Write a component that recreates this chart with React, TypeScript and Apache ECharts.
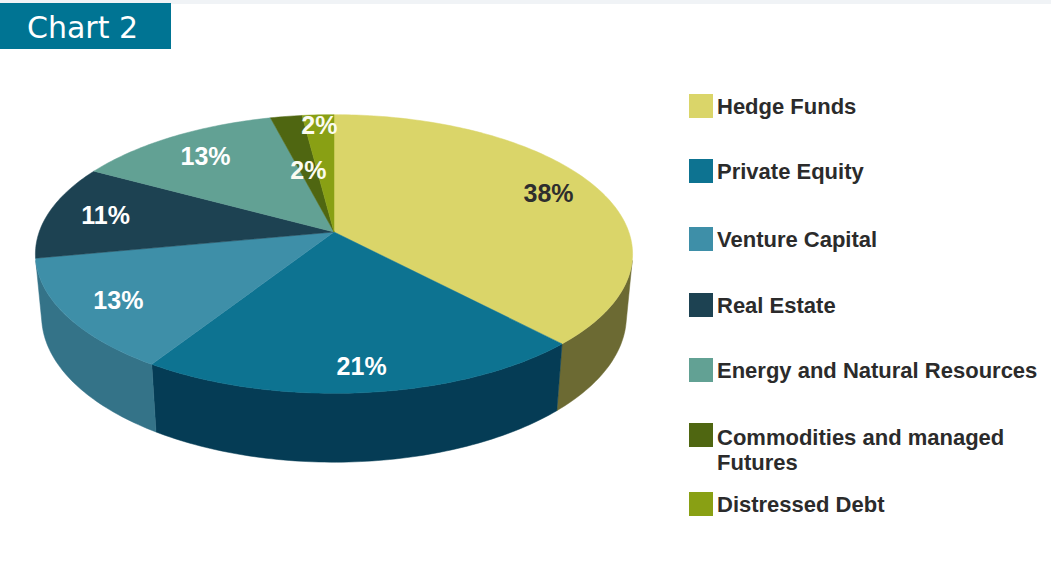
import React, { useEffect, useRef } from "react";
import * as echarts from "echarts";

// ---- data ----
const title = "Chart 2";
const categories = [
  "Hedge Funds",
  "Private Equity",
  "Venture Capital",
  "Real Estate",
  "Energy and Natural Resources",
  "Commodities and managed Futures",
  "Distressed Debt",
];
const legendLabels = [
  "Hedge Funds",
  "Private Equity",
  "Venture Capital",
  "Real Estate",
  "Energy and Natural Resources",
  "Commodities and managed\nFutures",
  "Distressed Debt",
];
const shares = [38, 21, 13, 11, 13, 2, 2];

// ---- styles ----
const TOP_COLORS = ["#dad569", "#0d7391", "#3e8fa8", "#1d4252", "#62a194", "#4f6611", "#89a014"];
const SIDE_COLORS = ["#6c6a33", "#053c55", "#347388", "#163540", "#4c8074", "#3c4e0c", "#6a7c10"];
const LABEL_COLORS = ["#2e2e2e", "#ffffff", "#ffffff", "#ffffff", "#ffffff", "#fbfbf0", "#fbfbf0"];
const LABEL_R = [0.82, 0.86, 0.82, 0.8, 0.78, 0.5, 0.9];
const LEGEND_Y = [106, 171, 239, 305, 370, 435, 504];

// perspective camera for the tilted pie
const CAM = { H: 2.63, D: 4.94, k: 1618, kx: 1650, cx: 334, cy: 232, t: 0.246 };
const CAM_L = Math.sqrt(CAM.H * CAM.H + CAM.D * CAM.D);

function project(X: number, Y: number, Z: number): number[] {
  const depth = (-CAM.H * (Y - CAM.H) + CAM.D * (Z + CAM.D)) / CAM_L;
  const up = (CAM.D * Y + CAM.H * Z) / CAM_L;
  return [CAM.cx + (CAM.kx * X) / depth, CAM.cy - (CAM.k * up) / depth];
}
const rad = (d: number) => (d * Math.PI) / 180;
function pt(deg: number, Y: number, r = 1) {
  return project(r * Math.sin(rad(deg)), Y, r * Math.cos(rad(deg)));
}
function arc(a0: number, a1: number, Y: number): number[][] {
  const pts: number[][] = [];
  const n = Math.max(2, Math.ceil(Math.abs(a1 - a0) / 1));
  for (let i = 0; i <= n; i++) pts.push(pt(a0 + ((a1 - a0) * i) / n, Y));
  return pts;
}

const total = shares.reduce((a, b) => a + b, 0);
const startDeg: number[] = [];
{
  let acc = 0;
  shares.forEach((v) => {
    startDeg.push((acc / total) * 360);
    acc += v;
  });
}
const endDeg = shares.map((v, i) => startDeg[i] + (v / total) * 360);
const visLo = (Math.acos(-1 / CAM.D) * 180) / Math.PI; // ~101.6
const visHi = 360 - visLo;

export default function App() {
  const ref = useRef<HTMLDivElement>(null);
  useEffect(() => {
    document.body.style.margin = "0";
    const chart = echarts.init(ref.current!, undefined, { renderer: "svg" });
    const data = shares.map((v, i) => ({ name: categories[i], value: [i, v] }));

    const sideSeries = {
      type: "custom",
      coordinateSystem: "none",
      silent: true,
      z: 1,
      data,
      renderItem: (params: any) => {
        const i = params.dataIndex;
        const a0 = Math.max(startDeg[i], visLo);
        const a1 = Math.min(endDeg[i], visHi);
        if (a1 <= a0) return { type: "group", children: [] };
        const points = arc(a0, a1, 0).concat(arc(a1, a0, -CAM.t));
        return {
          type: "polygon",
          shape: { points },
          style: { fill: SIDE_COLORS[i], stroke: SIDE_COLORS[i], lineWidth: 0.5 },
        };
      },
    };
    const topSeries = {
      type: "custom",
      coordinateSystem: "none",
      silent: true,
      z: 2,
      data,
      renderItem: (params: any) => {
        const i = params.dataIndex;
        const points = [project(0, 0, 0)].concat(arc(startDeg[i], endDeg[i], 0));
        return {
          type: "polygon",
          shape: { points },
          style: { fill: TOP_COLORS[i], stroke: TOP_COLORS[i], lineWidth: 0.5 },
        };
      },
    };
    const labelSeries = {
      type: "custom",
      coordinateSystem: "none",
      silent: true,
      z: 3,
      data,
      renderItem: (params: any, api: any) => {
        const i = params.dataIndex;
        const mid = (startDeg[i] + endDeg[i]) / 2;
        const p = pt(mid, 0, LABEL_R[i]);
        return {
          type: "text",
          x: p[0],
          y: p[1],
          style: {
            text: `${api.value(1)}%`,
            fill: LABEL_COLORS[i],
            fontFamily: '"Liberation Sans", Arial, sans-serif',
            fontWeight: "bold",
            fontSize: 25,
            align: "center",
            verticalAlign: "middle",
          },
        };
      },
    };

    const graphics: any[] = [
      { type: "rect", shape: { x: 0, y: 0, width: 1051, height: 4 }, style: { fill: "#f0f3f6" } },
      { type: "rect", shape: { x: 0, y: 3, width: 171, height: 46 }, style: { fill: "#007493" } },
      {
        type: "text",
        x: 27,
        y: 27,
        style: {
          text: title,
          fill: "#ffffff",
          fontFamily: '"DejaVu Sans", sans-serif',
          fontSize: 30,
          verticalAlign: "middle",
        },
      },
    ];
    legendLabels.forEach((lab, i) => {
      const y = LEGEND_Y[i];
      graphics.push({
        type: "rect",
        shape: { x: 689, y: y - 12, width: 24, height: 24 },
        style: { fill: TOP_COLORS[i] },
      });
      const twoLine = lab.includes("\n");
      graphics.push({
        type: "text",
        x: 717,
        y: twoLine ? y - 10 : y,
        style: {
          text: lab,
          fill: "#2b2b2b",
          fontFamily: '"Liberation Sans", Arial, sans-serif',
          fontWeight: "bold",
          fontSize: 22,
          lineHeight: 25,
          verticalAlign: twoLine ? "top" : "middle",
        },
      });
    });

    chart.setOption({
      animation: false,
      backgroundColor: "#ffffff",
      graphic: graphics,
      series: [sideSeries, topSeries, labelSeries],
    });
    return () => chart.dispose();
  }, []);
  return (
    <div
      ref={ref}
      style={{ position: "absolute", left: 0, top: 0, width: 1051, height: 576 }}
    />
  );
}
